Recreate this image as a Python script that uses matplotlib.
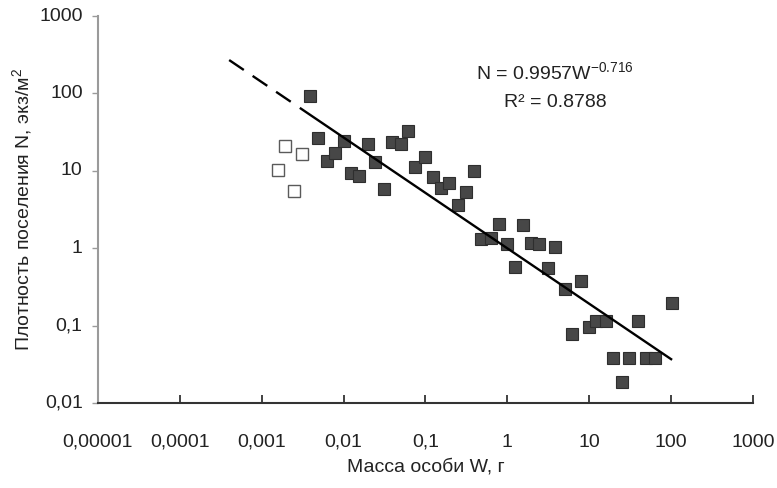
import matplotlib
matplotlib.use("Agg")
import matplotlib.pyplot as plt
import numpy as np

# Масса особи W (г) и плотность поселения N (экз/м2)
mass_main = [0.00388, 0.00485, 0.00625, 0.00783, 0.0101, 0.0123, 0.0154, 0.0198,
             0.0241, 0.0310, 0.0389, 0.0501, 0.0610, 0.0743, 0.0985, 0.123,
             0.154, 0.193, 0.249, 0.311, 0.390, 0.474, 0.629, 0.787,
             0.986, 1.24, 1.55, 1.94, 2.43, 3.12, 3.80, 5.04,
             6.13, 7.89, 9.88, 12.0, 16.0, 19.4, 25.0, 30.5,
             39.2, 49.1, 63.2, 102.0]
density_main = [92.0, 26.5, 13.4, 17.0, 24.3, 9.4, 8.6, 22.2,
                13.0, 5.8, 23.5, 22.2, 32.7, 11.2, 15.1, 8.3,
                6.0, 7.0, 3.6, 5.3, 9.9, 1.32, 1.36, 2.06,
                1.13, 0.57, 2.0, 1.17, 1.13, 0.55, 1.04, 0.30,
                0.078, 0.38, 0.096, 0.115, 0.115, 0.038, 0.0187, 0.038,
                0.115, 0.038, 0.038, 0.196]

# точки, не вошедшие в аппроксимацию
mass_excl = [0.00192, 0.00310, 0.00158, 0.00247]
density_excl = [20.9, 16.5, 10.2, 5.5]

# степенная зависимость N = a * W^b
fit_a = 0.9957
fit_b = -0.716
fit_r2 = 0.8788
fit_range = (0.003, 100.0)
extrap_range = (0.0004, 0.0027)

x_ticks = [1e-5, 1e-4, 1e-3, 1e-2, 1e-1, 1, 10, 100, 1000]
x_labels = ["0,00001", "0,0001", "0,001", "0,01", "0,1", "1", "10", "100", "1000"]
y_ticks = [0.01, 0.1, 1, 10, 100, 1000]
y_labels = ["0,01", "0,1", "1", "10", "100", "1000"]

plt.rcParams["font.family"] = ["Liberation Sans Narrow", "Liberation Sans", "DejaVu Sans"]
plt.rcParams["mathtext.default"] = "regular"

fig = plt.figure(figsize=(7.77, 4.88), dpi=100)
ax = fig.add_axes([0.1261, 0.1742, 0.8430, 0.7930])

ax.set_xscale("log")
ax.set_yscale("log")
ax.set_xlim(1e-5, 1e3)
ax.set_ylim(0.01, 1000)

# линия тренда и её экстраполяция
xf = np.logspace(np.log10(fit_range[0]), np.log10(fit_range[1]), 50)
ax.plot(xf, fit_a * xf ** fit_b, color="black", lw=1.7, zorder=4)
xe = np.logspace(np.log10(extrap_range[0]), np.log10(extrap_range[1]), 20)
ax.plot(xe, fit_a * xe ** fit_b, color="black", lw=1.7, zorder=4,
        dashes=(7.5, 4.5))

ax.plot(mass_main, density_main, ls="none", marker="s", markersize=8.8,
        markerfacecolor="#474747", markeredgecolor="#2e2e2e",
        markeredgewidth=0.8, zorder=3)
ax.plot(mass_excl, density_excl, ls="none", marker="s", markersize=8.5,
        markerfacecolor="white", markeredgecolor="#5a5a5a",
        markeredgewidth=1.0, zorder=3)

ax.set_xticks(x_ticks)
ax.set_xticklabels(x_labels)
ax.set_yticks(y_ticks)
ax.set_yticklabels(y_labels)
ax.minorticks_off()

for s in ("top", "right"):
    ax.spines[s].set_visible(False)
ax.spines["left"].set_color("#9a9a9a")
ax.spines["left"].set_linewidth(1.5)
ax.spines["bottom"].set_color("#333333")
ax.spines["bottom"].set_linewidth(1.5)

ax.tick_params(axis="x", direction="in", length=6, width=1.3, color="#333333",
               labelsize=14, labelcolor="#222222", pad=22)
ax.tick_params(axis="y", direction="out", length=4, width=1.0, color="#9a9a9a",
               labelsize=14, labelcolor="#222222", pad=7)
for lbl in ax.get_yticklabels():
    lbl.set_verticalalignment("center")

ax.set_xlabel("Масса особи W, г", fontsize=14, color="#222222", labelpad=6)
ax.set_ylabel("Плотность поселения N, экз/м$^{2}$", fontsize=14,
              color="#222222", labelpad=4)

fig.text(555 / 777, 1 - 72 / 488,
         "N = %.4fW$^{\u2212%.3f}$" % (fit_a, -fit_b),
         ha="center", va="center", fontsize=14, color="#222222")
fig.text(555 / 777, 1 - 102 / 488, "R\u00b2 = %.4f" % fit_r2,
         ha="center", va="center", fontsize=14, color="#222222")

fig.savefig("out.png", dpi=100, facecolor="white")
